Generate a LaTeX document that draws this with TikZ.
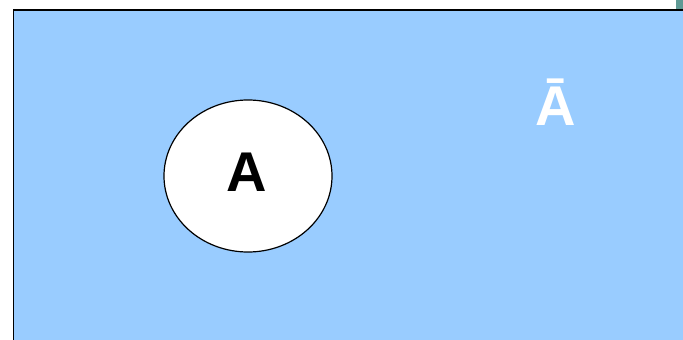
\documentclass[tikz,border=0pt]{standalone}
\usepackage{fontspec}
\setmainfont{Liberation Sans}
\usetikzlibrary{shapes.geometric}
\definecolor{skyfill}{HTML}{99CCFF}
\definecolor{tealmark}{HTML}{5F9A95}
\begin{document}
\begin{tikzpicture}[x=1pt,y=-1pt,
  lbl/.style={font=\bfseries\fontsize{56}{56}\selectfont, inner sep=0pt, anchor=base}]
\useasboundingbox (0,0) rectangle (683,340);
\fill[white] (0,0) rectangle (683,340);
\fill[tealmark] (676,0) rectangle (683,9);
\path[fill=skyfill] (13,10) rectangle (690,345);
\draw[line width=1.6pt] (13.5,345) -- (13.5,10) -- (690,10);
\node[draw, fill=white, line width=1.2pt, ellipse, minimum width=168pt, minimum height=152pt, inner sep=0pt] (setA) at (248,176) {};
\node[lbl] (labA) at (247,191) {A};
\node[lbl, text=white] (labAbar) at (556,125) {Ā};
\end{tikzpicture}
\end{document}
